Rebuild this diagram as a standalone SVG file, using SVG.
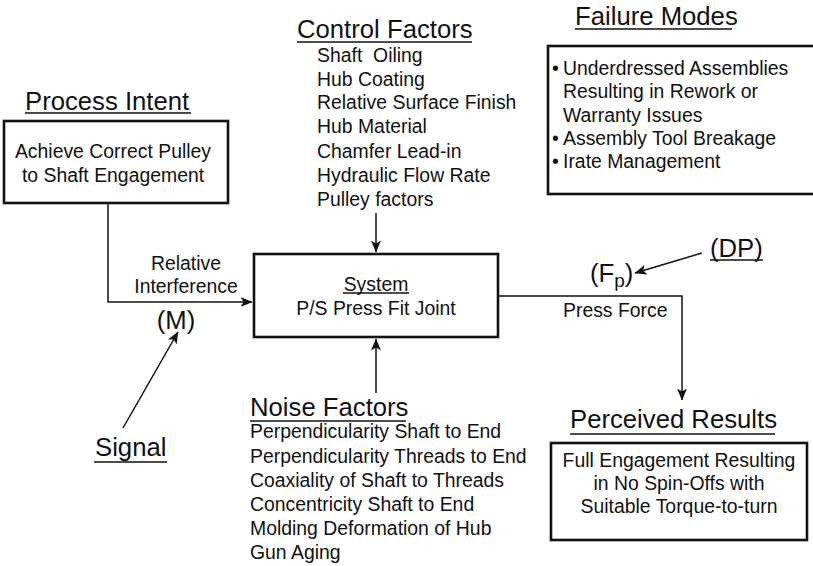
<svg xmlns="http://www.w3.org/2000/svg" width="813" height="566" viewBox="0 0 813 566">
  <style>
    text { font-family: "Liberation Sans", Arial, Helvetica, sans-serif; fill: #111; }
    .head { font-size: 25.7px; }
    .item { font-size: 19.4px; }
    .box { fill: #fff; stroke: #111; stroke-width: 2.6; }
    .ul { stroke: #111; stroke-width: 1.5; }
    .wire { fill: none; stroke: #111; stroke-width: 1.5; }
    .mid { text-anchor: middle; }
  </style>
  <defs>
    <marker id="arrow" viewBox="0 0 12 10" refX="11.5" refY="5" markerWidth="12" markerHeight="10" markerUnits="userSpaceOnUse" orient="auto">
      <path d="M0,0 L12,5 L0,10 L3,5 Z" fill="#111"/>
    </marker>
  </defs>
  <rect width="813" height="566" fill="#fff"/>

  <!-- Connectors -->
  <g id="connectors">
    <polyline class="wire" points="108,203 108,302 252,302" marker-end="url(#arrow)"/>
    <line class="wire" x1="376" y1="213" x2="376" y2="252" marker-end="url(#arrow)"/>
    <line class="wire" x1="376" y1="393" x2="376" y2="339" marker-end="url(#arrow)"/>
    <polyline class="wire" points="498,296 682,296 682,400" marker-end="url(#arrow)"/>
    <line class="wire" x1="123" y1="428" x2="178" y2="332" marker-end="url(#arrow)"/>
    <line class="wire" x1="702" y1="253" x2="635" y2="273" marker-end="url(#arrow)"/>
  </g>

  <!-- Process intent -->
  <g id="process-intent">
    <text class="head" x="25" y="110">Process Intent</text>
    <line class="ul" x1="25" y1="113" x2="191" y2="113"/>
    <rect class="box" x="4" y="121" width="224" height="82"/>
    <text class="item mid" x="113" y="158">Achieve Correct Pulley</text>
    <text class="item mid" x="113" y="182">to Shaft Engagement</text>
  </g>

  <!-- Signal label feeding the input -->
  <g id="input-label">
    <text class="item mid" x="186" y="270">Relative</text>
    <text class="item mid" x="186" y="293">Interference</text>
    <text class="head mid" x="176" y="329">(M)</text>
  </g>

  <g id="signal">
    <text class="head" x="95" y="456">Signal</text>
    <line class="ul" x1="94" y1="462" x2="167" y2="462"/>
  </g>

  <!-- Control factors -->
  <g id="control-factors">
    <text class="head" x="297" y="38">Control Factors</text>
    <line class="ul" x1="297" y1="42" x2="472" y2="42"/>
    <text class="item" x="317" y="62" xml:space="preserve">Shaft  Oiling</text>
    <text class="item" x="317" y="86">Hub Coating</text>
    <text class="item" x="317" y="109">Relative Surface Finish</text>
    <text class="item" x="317" y="133">Hub Material</text>
    <text class="item" x="317" y="158">Chamfer Lead-in</text>
    <text class="item" x="317" y="182">Hydraulic Flow Rate</text>
    <text class="item" x="317" y="206">Pulley factors</text>
  </g>

  <!-- System -->
  <g id="system">
    <rect class="box" x="254" y="254" width="244" height="83"/>
    <text class="item mid" x="376" y="291">System</text>
    <line class="ul" x1="343" y1="293" x2="409" y2="293"/>
    <text class="item mid" x="376" y="315">P/S Press Fit Joint</text>
  </g>

  <!-- Noise factors -->
  <g id="noise-factors">
    <text class="head" x="250" y="416">Noise Factors</text>
    <line class="ul" x1="250" y1="421" x2="406" y2="421"/>
    <text class="item" x="250" y="438">Perpendicularity Shaft to End</text>
    <text class="item" x="250" y="463">Perpendicularity Threads to End</text>
    <text class="item" x="250" y="487">Coaxiality of Shaft to Threads</text>
    <text class="item" x="250" y="511">Concentricity Shaft to End</text>
    <text class="item" x="250" y="535">Molding Deformation of Hub</text>
    <text class="item" x="250" y="559">Gun Aging</text>
  </g>

  <!-- Failure modes -->
  <g id="failure-modes">
    <text class="head" x="575" y="25">Failure Modes</text>
    <line class="ul" x1="575" y1="29" x2="732" y2="29"/>
    <rect class="box" x="548" y="46" width="270" height="148"/>
    <text class="item" x="552" y="75">•</text>
    <text class="item" x="563" y="75">Underdressed Assemblies</text>
    <text class="item" x="563" y="98">Resulting in Rework or</text>
    <text class="item" x="563" y="122">Warranty Issues</text>
    <text class="item" x="552" y="145">•</text>
    <text class="item" x="563" y="145">Assembly Tool Breakage</text>
    <text class="item" x="552" y="168">•</text>
    <text class="item" x="563" y="168">Irate Management</text>
  </g>

  <!-- Output response -->
  <g id="output-label">
    <text class="head" x="590" y="282">(F<tspan font-size="19" dy="5">p</tspan><tspan dy="-5">)</tspan></text>
    <text class="item" x="563" y="317">Press Force</text>
  </g>

  <g id="design-parameter">
    <text class="head" x="710" y="257">(DP)</text>
    <line class="ul" x1="710" y1="260" x2="763" y2="260"/>
  </g>

  <!-- Perceived results -->
  <g id="perceived-results">
    <text class="head" x="570" y="428">Perceived Results</text>
    <line class="ul" x1="570" y1="434" x2="775" y2="434"/>
    <rect class="box" x="551" y="443" width="256" height="97"/>
    <text class="item mid" x="679" y="467">Full Engagement Resulting</text>
    <text class="item mid" x="679" y="490">in No Spin-Offs with</text>
    <text class="item mid" x="679" y="513">Suitable Torque-to-turn</text>
  </g>
</svg>
